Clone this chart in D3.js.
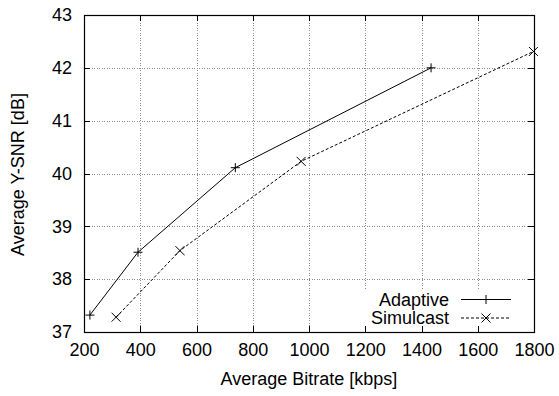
<!DOCTYPE html>
<html>
<head>
<meta charset="utf-8">
<script src="https://cdn.jsdelivr.net/npm/d3@7"></script>
<style>
  html, body { margin: 0; padding: 0; background: #fff; }
  svg { display: block; }
  text { font-family: "Liberation Sans", Arial, sans-serif; fill: #000; }
</style>
</head>
<body>
<svg id="chart" width="559" height="396"></svg>
<script>
// Bitrate (kbps) vs. average Y-SNR (dB)
const adaptiveBitrate = [221, 392, 738, 1434];
const adaptiveSnr = [37.32, 38.51, 40.11, 42.0];
const simulcastBitrate = [314, 541, 972, 1798];
const simulcastSnr = [37.28, 38.54, 40.23, 42.31];

const xTicks = [200, 400, 600, 800, 1000, 1200, 1400, 1600, 1800];
const yTicks = [37, 38, 39, 40, 41, 42, 43];
const seriesNames = ["Adaptive", "Simulcast"];

const svg = d3.select("#chart");
const plotLeft = 84, plotRight = 534, plotTop = 15, plotBottom = 332;

const x = d3.scaleLinear().domain([200, 1800]).range([plotLeft, plotRight]);
const y = d3.scaleLinear().domain([37, 43]).range([plotBottom, plotTop]);

const fontSize = 18;

// grid
const grid = svg.append("g").attr("stroke", "#8a8a8a").attr("stroke-width", 1)
  .attr("stroke-dasharray", "1,1.5").attr("shape-rendering", "crispEdges");
xTicks.slice(1, -1).forEach(t => {
  grid.append("line").attr("x1", Math.round(x(t)) + 0.5).attr("x2", Math.round(x(t)) + 0.5)
    .attr("y1", plotTop).attr("y2", plotBottom);
});
yTicks.slice(1, -1).forEach(t => {
  grid.append("line").attr("y1", Math.round(y(t)) + 0.5).attr("y2", Math.round(y(t)) + 0.5)
    .attr("x1", plotLeft).attr("x2", plotRight);
});

// series
const series = [
  { name: seriesNames[0], xs: adaptiveBitrate, ys: adaptiveSnr, dash: null, marker: "plus" },
  { name: seriesNames[1], xs: simulcastBitrate, ys: simulcastSnr, dash: "3,2", marker: "cross" }
];

const line = d3.line().x(d => x(d[0])).y(d => y(d[1]));
const ms = 4.5;
function drawMarker(g, cx, cy, kind) {
  const p = kind === "plus"
    ? `M${cx - ms},${cy}H${cx + ms}M${cx},${cy - ms}V${cy + ms}`
    : `M${cx - ms},${cy - ms}L${cx + ms},${cy + ms}M${cx - ms},${cy + ms}L${cx + ms},${cy - ms}`;
  g.append("path").attr("d", p).attr("stroke", "#000").attr("stroke-width", 1).attr("fill", "none");
}

series.forEach(s => {
  const pts = s.xs.map((v, i) => [v, s.ys[i]]);
  svg.append("path").datum(pts).attr("d", line).attr("fill", "none")
    .attr("stroke", "#000").attr("stroke-width", 1)
    .attr("stroke-dasharray", s.dash);
  const g = svg.append("g");
  pts.forEach(p => drawMarker(g, x(p[0]), y(p[1]), s.marker));
});

// legend (opaque box)
const legendRight = 449, sampleX0 = 461, sampleX1 = 511;
svg.append("rect").attr("x", 362).attr("y", 289).attr("width", 170).attr("height", 41).attr("fill", "#fff");
series.forEach((s, i) => {
  const ly = 299.5 + i * 18.5;
  svg.append("text").attr("x", legendRight).attr("y", ly).attr("dy", "0.35em")
    .attr("text-anchor", "end").attr("font-size", fontSize).text(s.name);
  svg.append("line").attr("x1", sampleX0).attr("x2", sampleX1).attr("y1", ly).attr("y2", ly)
    .attr("stroke", "#000").attr("stroke-width", 1).attr("stroke-dasharray", s.dash);
  drawMarker(svg, (sampleX0 + sampleX1) / 2, ly, s.marker);
});

// axes with ticks on all four sides (mirrored, inward)
const tk = 6;
const axG = svg.append("g").attr("shape-rendering", "crispEdges");
svg.append("rect").attr("x", plotLeft + 0.5).attr("y", plotTop + 0.5)
  .attr("width", plotRight - plotLeft).attr("height", plotBottom - plotTop)
  .attr("fill", "none").attr("stroke", "#000").attr("stroke-width", 1.2);

const fmt = d3.format("d");
const xAxisB = d3.axisBottom(x).tickValues(xTicks).tickFormat(fmt).tickSizeInner(-tk).tickSizeOuter(0).tickPadding(11);
const xAxisT = d3.axisTop(x).tickValues(xTicks).tickSizeInner(-tk).tickSizeOuter(0).tickFormat("");
const yAxisL = d3.axisLeft(y).tickValues(yTicks).tickFormat(fmt).tickSizeInner(-tk).tickSizeOuter(0).tickPadding(12);
const yAxisR = d3.axisRight(y).tickValues(yTicks).tickSizeInner(-tk).tickSizeOuter(0).tickFormat("");

function styleAxis(g) {
  g.select(".domain").remove();
  g.selectAll("line").attr("stroke", "#000");
  g.selectAll("text").attr("font-size", fontSize).attr("font-family", "Liberation Sans, Arial, sans-serif").attr("fill", "#000");
}
axG.append("g").attr("transform", `translate(0,${plotBottom})`).call(xAxisB).call(styleAxis);
axG.append("g").attr("transform", `translate(0,${plotTop})`).call(xAxisT).call(styleAxis);
axG.append("g").attr("transform", `translate(${plotLeft},0)`).call(yAxisL).call(styleAxis);
axG.append("g").attr("transform", `translate(${plotRight},0)`).call(yAxisR).call(styleAxis);

// titles
svg.append("text").attr("x", (plotLeft + plotRight) / 2).attr("y", 385)
  .attr("text-anchor", "middle").attr("font-size", fontSize).text("Average Bitrate [kbps]");
svg.append("text").attr("transform", `translate(24,${(plotTop + plotBottom) / 2 + 1}) rotate(-90)`)
  .attr("text-anchor", "middle").attr("font-size", fontSize).text("Average Y-SNR [dB]");
</script>
</body>
</html>
